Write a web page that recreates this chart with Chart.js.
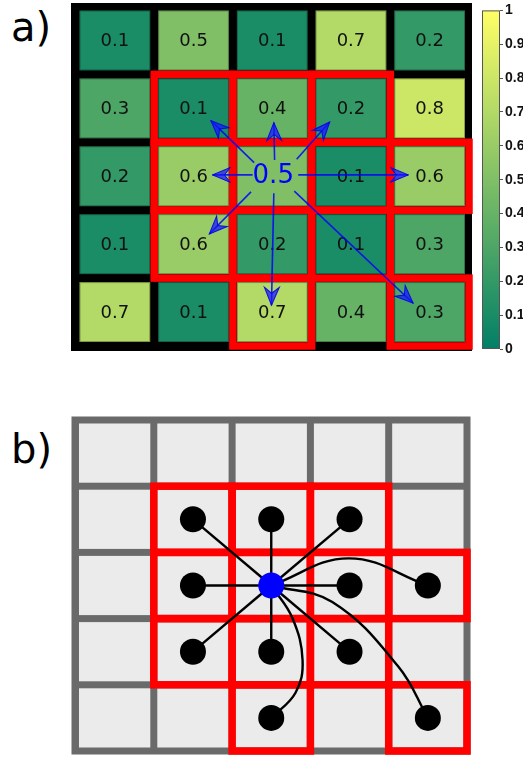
<!DOCTYPE html>
<html>
<head>
<meta charset="UTF-8">
<title>Neighbourhood grid</title>
<script src="https://cdn.jsdelivr.net/npm/chart.js"></script>
<style>
  body { margin: 0; background: #fff; font-family: "DejaVu Sans", sans-serif; }
  .page { position: relative; width: 523px; height: 764px; overflow: hidden; }
  canvas { position: absolute; }
  .tag { position: absolute; font-size: 40px; line-height: 1; color: #000; }
</style>
</head>
<body>
<div class="page">
  <div class="tag" style="left:11px; top:7px;">a)</div>
  <div class="tag" style="left:11px; top:429px;">b)</div>
  <canvas id="panelA" width="480" height="360" style="left:0; top:0;"></canvas>
  <canvas id="cbar" width="63" height="360" style="left:460px; top:0;"></canvas>
  <canvas id="panelB" width="480" height="400" style="left:0; top:364px;"></canvas>
</div>

<script>
// cell values, row by row from the top
const values = [
  [0.1, 0.5, 0.1, 0.7, 0.2],
  [0.3, 0.1, 0.4, 0.2, 0.8],
  [0.2, 0.6, 0.5, 0.1, 0.6],
  [0.1, 0.6, 0.2, 0.1, 0.3],
  [0.7, 0.1, 0.7, 0.4, 0.3]
];
const centerCell = [2, 2];            // [row, col]
const redCells = [[1,1],[1,2],[1,3],[2,1],[2,2],[2,3],[2,4],[3,1],[3,2],[3,3],[4,2],[4,4]];
const colorbarTicks = [0, 0.1, 0.2, 0.3, 0.4, 0.5, 0.6, 0.7, 0.8, 0.9, 1];

// arrows in panel a, in grid units [x, y]
const arrowFrom = [[2.27,2.30],[2.53,2.26],[2.81,2.25],[2.25,2.48],[2.83,2.48],[2.23,2.73],[2.52,2.75],[2.78,2.72]];
const arrowTo   = [[1.72,1.68],[2.52,1.71],[3.23,1.70],[1.74,2.48],[4.23,2.48],[1.70,3.35],[2.49,4.40],[4.29,4.37]];

// panel b: neighbour dots [row, col] and links from the centre
const dotCells = [[1,1],[1,2],[1,3],[2,1],[2,3],[2,4],[3,1],[3,2],[3,3],[4,2],[4,4]];
const straightLinks = [0, 1, 2, 3, 4, 6, 7, 8];
const curvedLinks = [
  { to: 5,  via: [[3.49, 2.09]] },
  { to: 9,  via: [[2.77, 2.99], [2.90, 3.63], [2.81, 4.12]] },
  { to: 10, via: [[3.28, 2.75], [4.12, 3.72]] }
];

function summer(v) {
  return 'rgb(' + Math.round(255 * v) + ',' + Math.round(255 * (0.5 + v / 2)) + ',102)';
}

function gridScales() {
  return {
    x: { type: 'linear', min: 0, max: 5, display: false },
    y: { type: 'linear', min: 0, max: 5, reverse: true, display: false }
  };
}

function cellBox(chart, r, c) {
  const xs = chart.scales.x, ys = chart.scales.y;
  return {
    l: xs.getPixelForValue(c), r: xs.getPixelForValue(c + 1),
    t: ys.getPixelForValue(r), b: ys.getPixelForValue(r + 1)
  };
}

function drawRedCells(chart) {
  const ctx = chart.ctx;
  ctx.strokeStyle = '#ff0000';
  ctx.lineWidth = 7.5;
  ctx.lineJoin = 'miter';
  redCells.forEach(([r, c]) => {
    const b = cellBox(chart, r, c);
    ctx.strokeRect(b.l, b.t, b.r - b.l, b.b - b.t);
  });
}

const baseOptions = (padding) => ({
  responsive: false,
  animation: false,
  events: [],
  layout: { padding: padding },
  plugins: { legend: { display: false }, tooltip: { enabled: false } },
  scales: gridScales()
});

// ---------- panel a ----------
const heatPlugin = {
  id: 'heat',
  beforeDatasetsDraw(chart) {
    const ctx = chart.ctx, xs = chart.scales.x, ys = chart.scales.y;
    const x0 = xs.getPixelForValue(0), x5 = xs.getPixelForValue(5);
    const y0 = ys.getPixelForValue(0), y5 = ys.getPixelForValue(5);
    ctx.save();
    ctx.fillStyle = '#000';
    ctx.fillRect(x0 - 4.5, y0 - 3.5, x5 - x0 + 7.5, y5 - y0 + 8.5);
    ctx.textAlign = 'center';
    ctx.textBaseline = 'middle';
    values.forEach((row, r) => row.forEach((v, c) => {
      const b = cellBox(chart, r, c);
      ctx.fillStyle = summer(v);
      ctx.fillRect(b.l + 4, b.t + 4, b.r - b.l - 8, b.b - b.t - 8);
      ctx.strokeStyle = 'rgba(0,0,0,0.3)';
      ctx.lineWidth = 1;
      ctx.strokeRect(b.l + 4.5, b.t + 4.5, b.r - b.l - 9, b.b - b.t - 9);
      if (r === centerCell[0] && c === centerCell[1]) return;
      ctx.fillStyle = '#111';
      ctx.font = '18px "DejaVu Sans"';
      ctx.fillText(String(v), (b.l + b.r) / 2, (b.t + b.b) / 2 + 1);
    }));
    drawRedCells(chart);
    ctx.restore();
  },
  afterDatasetsDraw(chart) {
    const ctx = chart.ctx, xs = chart.scales.x, ys = chart.scales.y;
    ctx.save();
    arrowTo.forEach((p, i) => {
      const sx = xs.getPixelForValue(arrowFrom[i][0]), sy = ys.getPixelForValue(arrowFrom[i][1]);
      const ex = xs.getPixelForValue(p[0]), ey = ys.getPixelForValue(p[1]);
      const a = Math.atan2(ey - sy, ex - sx);
      ctx.save();
      ctx.translate(ex, ey);
      ctx.rotate(a);
      ctx.beginPath();
      ctx.moveTo(0, 0);
      ctx.lineTo(-18, -7.5);
      ctx.lineTo(-12, 0);
      ctx.lineTo(-18, 7.5);
      ctx.closePath();
      ctx.fillStyle = 'rgba(20,20,255,0.72)';
      ctx.fill();
      ctx.strokeStyle = 'rgba(0,0,230,0.9)';
      ctx.lineWidth = 1;
      ctx.stroke();
      ctx.restore();
    });
    const b = cellBox(chart, centerCell[0], centerCell[1]);
    ctx.fillStyle = '#0000ff';
    ctx.font = '26px "DejaVu Sans"';
    ctx.textAlign = 'center';
    ctx.textBaseline = 'middle';
    ctx.fillText(String(values[centerCell[0]][centerCell[1]]), (b.l + b.r) / 2 + 1, (b.t + b.b) / 2);
    ctx.restore();
  }
};

new Chart(document.getElementById('panelA'), {
  type: 'scatter',
  data: {
    datasets: arrowTo.map((p, i) => ({
      data: [{ x: arrowFrom[i][0], y: arrowFrom[i][1] }, { x: p[0], y: p[1] }],
      showLine: true,
      borderColor: 'rgba(0,0,255,0.85)',
      borderWidth: 1.6,
      pointRadius: 0,
      clip: false
    }))
  },
  options: baseOptions({ left: 75.5, right: 11, top: 6.5, bottom: 14 }),
  plugins: [heatPlugin]
});

// ---------- colorbar ----------
new Chart(document.getElementById('cbar'), {
  type: 'bar',
  data: {
    labels: [''],
    datasets: [{
      data: [1],
      barPercentage: 1,
      categoryPercentage: 1,
      borderWidth: 0,
      backgroundColor: (c) => {
        const area = c.chart.chartArea;
        if (!area) return summer(0.5);
        const g = c.chart.ctx.createLinearGradient(0, area.bottom, 0, area.top);
        colorbarTicks.forEach(v => g.addColorStop(v, summer(v)));
        return g;
      }
    }]
  },
  options: {
    responsive: false,
    animation: false,
    events: [],
    layout: { padding: { left: 22, right: 0, top: 8, bottom: 11 } },
    plugins: { legend: { display: false }, tooltip: { enabled: false } },
    scales: {
      x: { display: false },
      y: {
        position: 'right',
        min: 0, max: 1,
        afterBuildTicks: (s) => { s.ticks = colorbarTicks.map(v => ({ value: v })); },
        afterFit: (s) => { s.width = 23; },
        ticks: {
          color: '#111',
          padding: 2,
          autoSkip: false,
          font: { family: '"Liberation Sans", Arial, sans-serif', size: 14, weight: 'bold' },
          callback: (v) => String(v)
        },
        grid: { drawOnChartArea: false, tickLength: 3, color: '#555' },
        border: { display: false }
      }
    }
  },
  plugins: [{
    id: 'cbFrame',
    afterDraw(chart) {
      const { ctx, chartArea: a } = chart;
      ctx.save();
      ctx.strokeStyle = '#555';
      ctx.lineWidth = 1;
      ctx.strokeRect(a.left + 0.5, a.top + 0.5, a.right - a.left - 1, a.bottom - a.top - 1);
      ctx.restore();
    }
  }]
});

// ---------- panel b ----------
const gridPlugin = {
  id: 'grayGrid',
  beforeDatasetsDraw(chart) {
    const ctx = chart.ctx, xs = chart.scales.x, ys = chart.scales.y;
    const x0 = xs.getPixelForValue(0), x5 = xs.getPixelForValue(5);
    const y0 = ys.getPixelForValue(0), y5 = ys.getPixelForValue(5);
    ctx.save();
    ctx.fillStyle = '#6a6a6a';
    ctx.fillRect(x0 - 4, y0 - 3.5, x5 - x0 + 7.5, y5 - y0 + 7);
    values.forEach((row, r) => row.forEach((v, c) => {
      const b = cellBox(chart, r, c);
      ctx.fillStyle = '#ebebeb';
      ctx.fillRect(b.l + 3.5, b.t + 3.5, b.r - b.l - 7, b.b - b.t - 7);
    }));
    drawRedCells(chart);
    ctx.restore();
  }
};

const center = { x: centerCell[1] + 0.5, y: centerCell[0] + 0.5 };
const dotPoint = (i) => ({ x: dotCells[i][1] + 0.5, y: dotCells[i][0] + 0.5 });

const linkSets = straightLinks.map(i => ({
  data: [center, dotPoint(i)],
  showLine: true, borderColor: '#000', borderWidth: 2.4, pointRadius: 0, order: 2, clip: false
})).concat(curvedLinks.map(l => ({
  data: [center].concat(l.via.map(p => ({ x: p[0], y: p[1] })), [dotPoint(l.to)]),
  showLine: true, tension: 0.4, borderColor: '#000', borderWidth: 2.4, pointRadius: 0, order: 2, clip: false
})));

new Chart(document.getElementById('panelB'), {
  type: 'scatter',
  data: {
    datasets: [
      { data: [center], pointRadius: 13, pointBackgroundColor: '#0000ff', pointBorderWidth: 0, order: 0, clip: false },
      { data: dotCells.map((d, i) => dotPoint(i)), pointRadius: 13, pointBackgroundColor: '#000', pointBorderWidth: 0, order: 1, clip: false }
    ].concat(linkSets)
  },
  options: baseOptions({ left: 75.5, right: 11, top: 56, bottom: 4 }),
  plugins: [gridPlugin]
});
</script>
</body>
</html>
